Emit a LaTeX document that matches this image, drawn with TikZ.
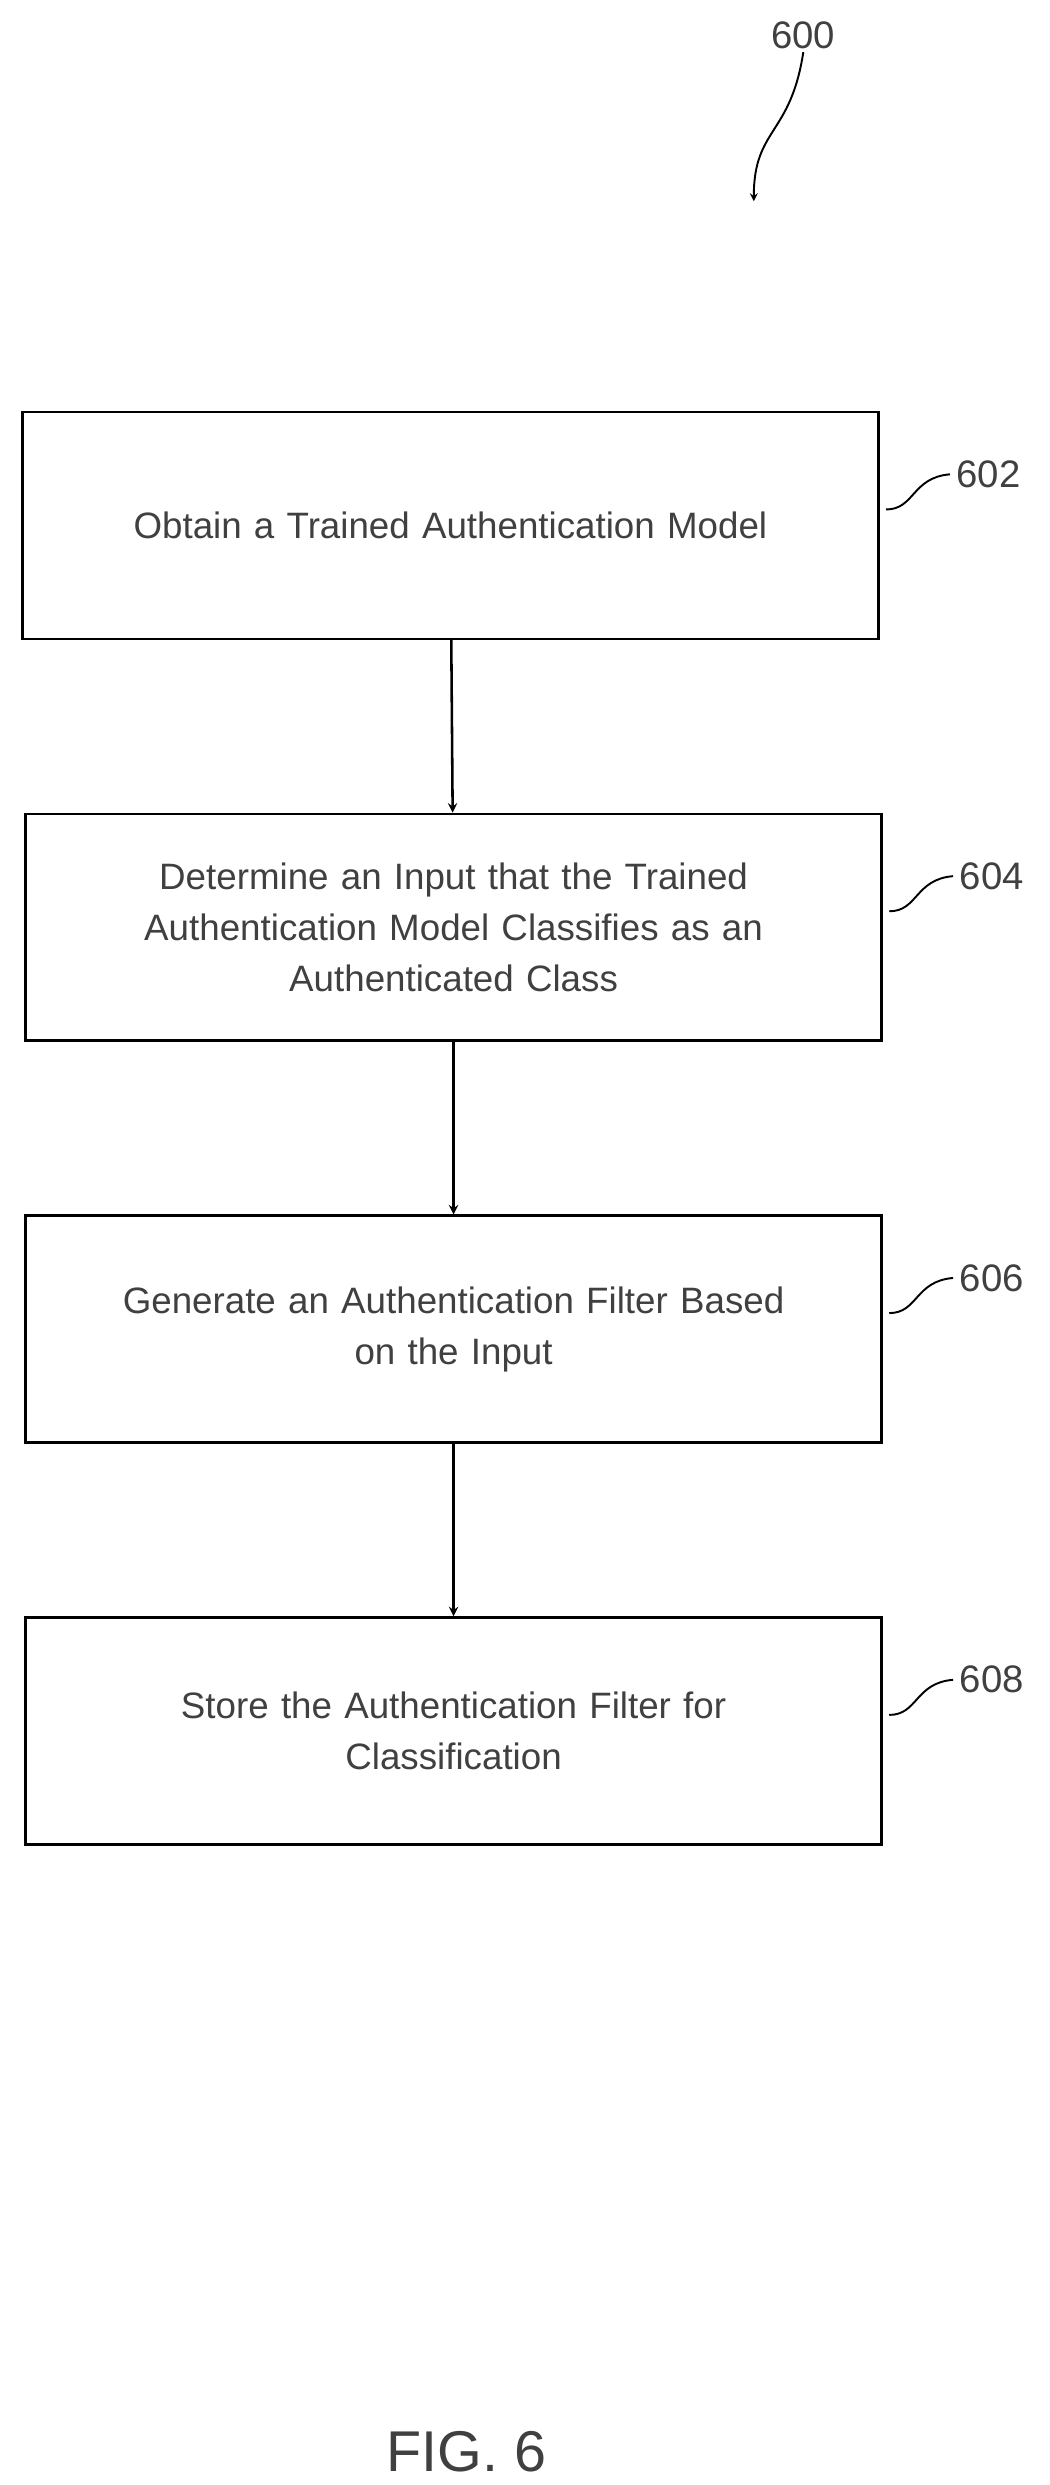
\documentclass[tikz,border=0pt]{standalone}
\usepackage{fontspec}
\setmainfont{Liberation Sans}
\usetikzlibrary{positioning, arrows}

\begin{document}
\begin{tikzpicture}[
                > = stealth, % arrow head style
                x = 1pt, y = -1pt,
                node distance = 108pt, % gap between boxes
                line width = 1.6pt
            ]

            \tikzset{flowbox/.style={draw = black, rectangle, minimum width = 536pt,
            minimum height = 142pt, inner sep = 2pt, align = center,
            text width = 520pt, font = \fontsize{23}{32}\selectfont\color{black!75}},
            tag/.style={font = \fontsize{24}{28}\selectfont\color{black!75}},
            squig/.style={line width = 1.2pt}}

            \useasboundingbox (0,0) rectangle (657,1556);

            \node (s602) [flowbox] at (282,329) {Obtain a Trained Authentication Model};
            \node (s604) [flowbox, below = of s602, xshift = 2pt] {Determine an Input that the Trained\\
            Authentication Model Classifies as an\\ Authenticated Class};
            \node (s606) [flowbox, below = of s604] {Generate an Authentication Filter Based\\ on the Input};
            \node (s608) [flowbox, below = of s606] {Store the Authentication Filter for\\ Classification};

            \path[->] (s602) edge (s604); \path[->] (s604) edge (s606);
            \path[->] (s606) edge (s608);

            % reference numerals
            \foreach \s/\n in {s602/602, s604/604, s606/606, s608/608}{
              \node (t\n) [tag, anchor = west] at ([xshift = 44pt, yshift = 32pt]\s.east) {\n};
              \draw[squig] ([xshift = 4pt, yshift = 10pt]\s.east) .. controls
              ([xshift = 22pt, yshift = 10pt]\s.east) and ([xshift = 20pt, yshift = 30pt]\s.east)
              .. (t\n.west);
            }

            \node (t600) [tag] at (503,22) {600};
            \coordinate (a600) at (472,126);
            \draw[squig, ->] ([yshift = 2pt]t600.south) .. controls (495,85) and (472,80) .. (a600);

            \node (fig) [font = \fontsize{36}{40}\selectfont\color{black!75}] at (292,1535) {FIG. 6};

        \end{tikzpicture}
\end{document}
